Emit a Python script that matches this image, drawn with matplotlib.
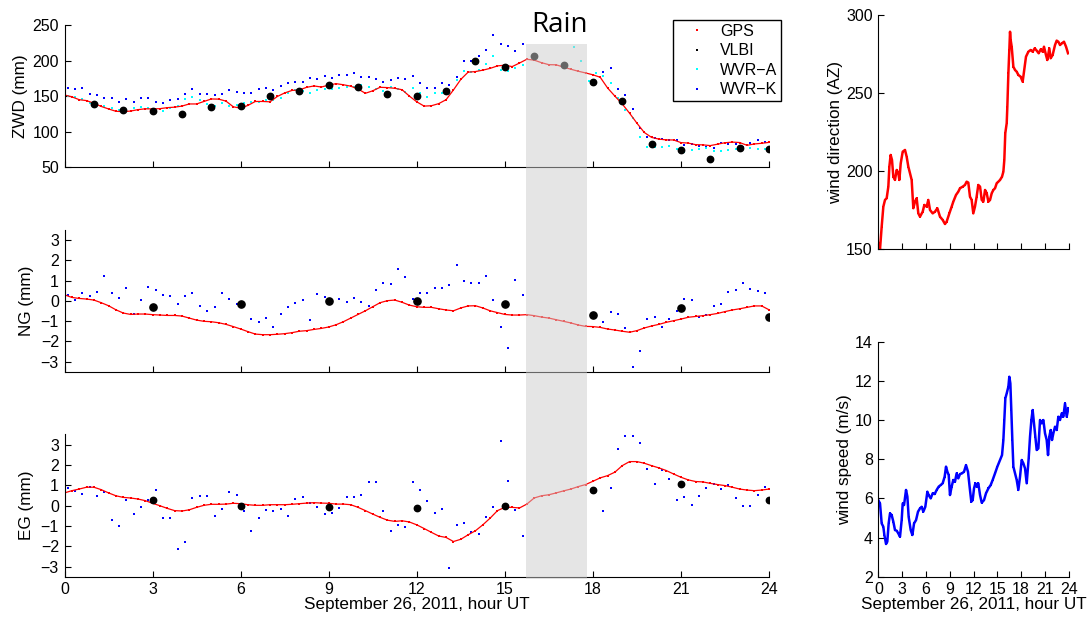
"""
ZWD and gradient comparison (GPS, VLBI, WVR) with local wind record, 26 Sep 2011.
"""

import matplotlib
matplotlib.use("Agg")

import matplotlib.pyplot as plt
import matplotlib.transforms as mtransforms
import numpy as np
from matplotlib.lines import Line2D
from matplotlib.patches import Rectangle

plt.rcParams["font.family"] = ["Liberation Sans", "DejaVu Sans"]

TICK_SIZE = 11.5
LABEL_SIZE = 12.3
XLABEL = "September 26, 2011, hour UT"

# Rain period, hours UT
RAIN_START = 15.72
RAIN_END = 17.80

# GPS estimates every 15 min
gps_hours = np.arange(97) * 0.25
gps_zwd = [151.6, 149, 145, 143.7, 140, 135.5, 132, 128.7, 128.2, 129, 131, 132.2,
           132, 132.4, 133.8, 134.5, 136, 139, 139, 142.5, 146, 145.8, 143, 135,
           133, 137, 142.5, 142.5, 142, 149.5, 154.5, 158, 158.7, 162.4, 164.3, 162.8,
           165.5, 167.5, 166, 164, 160, 154, 157.5, 162.4, 162, 161, 159, 150,
           142, 136, 136.5, 139.5, 145, 158.7, 173.5, 183.7, 184.5, 186.5, 189, 192.5,
           193.5, 191.5, 196.5, 201.8, 200.6, 197, 194.2, 194, 190.8, 187.8, 185, 182.6,
           180, 176.5, 161.5, 150, 139, 126, 112, 99, 92, 89.6, 88.5, 88.4,
           84.7, 84, 81.8, 81.5, 80.5, 82.5, 84.5, 85.4, 84.8, 80.9, 82.8, 83.7, 85]
gps_ng = [0.30, 0.17, 0.12, 0.09, 0.04, -0.09, -0.24, -0.44, -0.60, -0.67, -0.65, -0.65,
          -0.68, -0.70, -0.72, -0.72, -0.75, -0.85, -0.95, -1.01, -1.03, -1.08, -1.16, -1.27,
          -1.39, -1.52, -1.64, -1.67, -1.67, -1.65, -1.62, -1.57, -1.50, -1.47, -1.41, -1.36,
          -1.29, -1.18, -1.03, -0.85, -0.67, -0.49, -0.29, -0.09, 0.01, 0.04,
          -0.07, -0.21, -0.29, -0.32, -0.32, -0.39, -0.45, -0.49, -0.35, -0.25, -0.24, -0.35,
          -0.49, -0.58, -0.67, -0.70, -0.70, -0.68, -0.73, -0.80, -0.85, -0.93, -1.01, -1.09,
          -1.19, -1.26, -1.27, -1.31, -1.39, -1.44, -1.50, -1.55, -1.47, -1.34, -1.24, -1.16,
          -1.06, -0.98, -0.90, -0.81, -0.77, -0.73, -0.68, -0.62, -0.53, -0.45, -0.39, -0.32,
          -0.25, -0.25, -0.44]
gps_eg = [0.62, 0.73, 0.81, 0.90, 0.90, 0.78, 0.62, 0.48, 0.40, 0.37, 0.32, 0.24,
          0.11, -0.01, -0.14, -0.25, -0.27, -0.21, -0.09, 0.01, 0.06, 0.06, 0.07, 0.11,
          0.09, 0.04, 0.01, 0.01, 0.04, 0.04, 0.04, 0.06, 0.09, 0.12, 0.14, 0.12,
          0.11, 0.07, 0.07, 0.04, -0.09, -0.25, -0.42, -0.58, -0.72, -0.78,
          -0.75, -0.81, -0.95, -1.13, -1.32, -1.50, -1.57, -1.77, -1.66, -1.44, -1.24, -0.95,
          -0.62, -0.25, -0.09, -0.09, -0.12, 0.07, 0.37, 0.48, 0.53, 0.62, 0.72, 0.81,
          0.93, 1.03, 1.19, 1.36, 1.47, 1.64, 1.96, 2.16, 2.16, 2.08, 1.96, 1.85,
          1.72, 1.55, 1.39, 1.26, 1.18, 1.16, 1.09, 1.03, 0.98, 0.90, 0.81, 0.76,
          0.73, 0.76, 0.81]

# VLBI: hourly ZWD, 3-hourly gradients
vlbi_zwd_hours = np.arange(1, 25)
vlbi_zwd = [138.5, 130.1, 129.2, 125.0, 134.8, 136.2, 149.8, 157.7, 165.7, 162.4, 152.6, 150.2,
            157.7, 199.4, 190.5, 206.4, 193.8, 170.4, 143.7, 82.8, 74.4, 62.2, 77.2, 75.8]
vlbi_grad_hours = [3, 6, 9, 12, 15, 18, 21, 24]
vlbi_ng = [-0.29, -0.16, -0.02, 0.0, -0.17, -0.72, -0.34, -0.80]
vlbi_eg = [0.25, -0.04, -0.09, -0.14, -0.02, 0.78, 1.04, 0.25]

# WVR samples every 15 min, offset 0.11 h; nan = no data (rain)
nan = np.nan
wvr_hours = np.arange(96) * 0.25 + 0.11
wvra_zwd = [150.7, 148.4, 145.6, 141, 139, 136.2, 133, 130.6, 130.6, 133.8, 135.2, 133,
            129.6, 129.6, 133, 136.2, 145.6, 148.4, 144.6, 139, 136.2, 140, 136.5, 137,
            140, 142.3, 141.5, 144.6, 144.6, 147, 154.9, 158.7, 157.7, 154.9, 158.7, 159.6,
            159.6, 161.5, 163.3, 162.4, 165.2, 162.4, 159.6, 157.7, 163.3, 160,
            156.3, 161, 154.9, 148.4, 154, 154.9, 152.6, 172.7, 185.8, 184.4, 186.8, 195.2,
            206.4, 186.8, 185.8, 189.1, 193.8,
            nan, nan, nan, nan, nan, nan, 219.6, 199.9, 171.8, 183,
            178, 168, 147, 130.6, 118.9, 93, 79, 79, 79, 80, 75.3, 72,
            74.4, 75.3, 76.7, 73.4, 73, 74.4, 75.3, 77.6, 76.7, 75.3, 75.3]
wvrk_zwd = [161.5, 160.5, 161, 153, 152.1, 147, 147, 141.8, 145.6, 141.3, 147, 147.9,
            142.3, 140, 144.6, 146, 153, 160.5, 153.5, 152.6, 152.1, 153.5, 158.7, 155.9,
            154, 154, 159.6, 161.5, 158.7, 164.3, 169, 169.4, 169.4, 175.1, 173.7, 178.3,
            175.1, 179.7, 179.3, 183, 177.4, 176.5, 174.6, 170.4, 172.3, 175.1,
            173.7, 178.3, 169, 161, 162, 169, 165, 177.4, 199.4, 199, 206.4, 214.9,
            236, 223.8, 221, 213.5, 223.8,
            nan, nan, nan, nan, nan, nan, nan, nan, nan, nan,
            184.4, 189.1, 160, 151.6, 132, 105.7, 92, 90.7, 89.3, 88.4, 88.4, 81.4,
            82.8, 80, 79, 76.7, 83.7, 82.8, 82.3, 79, 83.7, 88, 86]
wvrk_ng = [0.30, 0.06, 0.40, 0.22, 0.45, 1.23, 0.37, 0.16, 0.62, -0.65, 0.06, 0.70,
           0.52, 0.29, 0.22, -0.14, 0.24, 0.40, -0.25, -0.52, -0.30, 0.40, 0.11, -0.14,
           -0.24, -0.90, -1.06, -0.83, -1.31, -0.67, -0.30, -0.12, 0.04, -0.96, 0.34, 0.21,
           0.02, 0.11, -0.07, 0.12, -0.06, -0.24, 0.52, 0.90, 0.85, 1.57,
           1.19, 0.09, 0.39, 0.39, 0.63, 0.65, 0.76, 1.77, 1.0, 0.90, 0.86, 1.24,
           0.04, -1.31, -2.33, 1.04, 0.27,
           nan, nan, nan, nan, nan, nan, nan, nan, nan, nan,
           -1.04, -0.55, -0.67, -1.34, -3.28, -2.46, -0.90, -0.80, -1.27, -0.91, -0.52, 0.09,
           0.04, -0.81, -0.70, -0.25, -0.17, 0.44, 0.53, 0.86, 0.57, 0.50, 0.37]
wvrk_eg = [0.88, 0.73, 0.55, 0.93, 0.45, 0.67, -0.71, -1.03, 0.29, -0.42, -0.06, 0.29,
           0.76, -0.63, -0.62, -2.14, -1.78, 0.39, 0.47, 0.48, -0.50, -0.17, 0.67, 0.53,
           -0.29, -1.24, -0.62, -0.21, -0.25, -0.19, -0.50, 0.34, 0.40, 0.11, -0.09, -0.44,
           -0.35, -0.14, 0.42, 0.44, 0.53, 1.18, 1.16, -0.25, -1.26, -0.98,
           -1.06, 1.14, 0.78, 0.24, -0.39, -0.19, -3.07, -0.96, -0.85, -1.32, -1.39, -0.55,
           -0.05, 3.16, 1.19, -0.24, -1.52,
           nan, nan, nan, nan, nan, nan, nan, nan, nan, nan,
           -0.27, 0.85, 2.80, 3.44, 3.44, 3.08, 1.78, 1.06, 1.75, 1.29, 0.27, 0.44,
           0.01, 0.48, 0.85, 1.06, 0.83, 1.01, 0.39, -0.04, -0.04, 0.52, 0.93]

# Weather station wind record
wdir_hours = [0.0, 0.21, 0.42, 0.63, 0.84, 1.05, 1.26, 1.39, 1.55, 1.72, 1.89, 2.1, 2.31,
              2.52, 2.65, 2.82, 3.07, 3.36, 3.57, 3.78, 3.99, 4.2, 4.41, 4.62, 4.83, 5.04,
              5.25, 5.59, 5.8, 6.09, 6.3, 6.51, 6.85, 7.14, 7.44, 7.77, 8.11, 8.4, 8.61,
              8.95, 9.24, 9.45, 9.79, 10.08, 10.29, 10.63, 10.92, 11.13, 11.34, 11.55, 11.76,
              11.97, 12.18, 12.39, 12.6, 12.82, 13.03, 13.24, 13.45, 13.66, 13.87, 14.08,
              14.29, 14.5, 14.71, 14.92, 15.13, 15.34, 15.59, 15.76, 15.88, 16.0, 16.18,
              16.26, 16.39, 16.51, 16.6, 16.68, 16.81, 17.02, 17.23, 17.44, 17.65, 17.94,
              18.19, 18.36, 18.61, 18.91, 19.2, 19.45, 19.71, 19.96, 20.21, 20.46, 20.71,
              20.88, 21.13, 21.3, 21.55, 21.72, 21.97, 22.27, 22.48, 22.69, 22.9, 23.15,
              23.4, 23.66, 23.91]
wind_dir = [153.9, 150, 164.5, 177.3, 181.6, 182.7, 190.1, 203, 210.4, 207.2, 196.5, 194.4,
            200.8, 198.7, 194.4, 205, 212.5, 213.6, 209.3, 202.9, 198.7, 194.4, 176.3, 180.5,
            182.7, 173, 170.9, 174.1, 178.4, 177.3, 181.6, 175.2, 173, 174.1, 176.3, 170.9,
            168.8, 166.2, 167.7, 173, 177.3, 180.5, 184.8, 186.9, 189.1, 190.1, 191.2, 193.3,
            192.7, 183.7, 181.6, 173, 177.3, 183.7, 191.2, 190.1, 181.6, 180.5, 188, 185.9,
            180.5, 181.6, 185.9, 188, 189.1, 192.3, 193.3, 194.4, 196.5, 199.7, 207.2, 224.3,
            230.7, 241.3, 262.7, 277.6, 289.3, 284, 279.7, 266.9, 264.8, 263.7, 261.6, 260.5,
            257.3, 263.7, 273.3, 276.5, 277.6, 276.5, 278.7, 277.2, 275.5, 278, 276.5, 279.7,
            274.4, 271.2, 278.7, 272.3, 274.4, 280.8, 283.6, 282.9, 280.8, 281.9, 282.9,
            279.7, 275.5]
wspd_hours = [0, 0.21, 0.42, 0.63, 0.76, 0.97, 1.13, 1.3, 1.47, 1.68, 1.89, 2.1, 2.31, 2.52,
              2.73, 2.94, 3.07, 3.24, 3.49, 3.66, 3.82, 4.08, 4.29, 4.5, 4.75, 5.0, 5.25,
              5.46, 5.67, 5.92, 6.18, 6.34, 6.6, 6.85, 7.1, 7.35, 7.61, 7.86, 8.11, 8.36,
              8.53, 8.7, 8.87, 9.03, 9.24, 9.45, 9.66, 9.87, 10.08, 10.29, 10.55, 10.8,
              11.05, 11.3, 11.55, 11.72, 11.89, 12.06, 12.23, 12.39, 12.6, 12.82, 13.03,
              13.32, 13.57, 13.87, 14.16, 14.41, 14.71, 15.0, 15.34, 15.59, 15.76, 15.88,
              16.01, 16.18, 16.39, 16.51, 16.64, 16.76, 16.89, 17.02, 17.23, 17.44, 17.65,
              17.86, 18.07, 18.28, 18.49, 18.7, 18.95, 19.12, 19.29, 19.45, 19.62, 19.79,
              19.96, 20.17, 20.38, 20.59, 20.8, 21.01, 21.22, 21.39, 21.55, 21.72, 21.89,
              22.06, 22.27, 22.48, 22.69, 22.9, 23.11, 23.32, 23.53, 23.74, 23.95]
wind_speed = [5.91, 5.74, 4.72, 4.55, 4.13, 3.67, 3.79, 4.72, 5.23, 5.15, 4.81, 4.38, 4.35,
              4.21, 4.04, 4.89, 5.74, 5.66, 6.43, 6.09, 5.06, 4.38, 4.13, 4.72, 4.89, 5.32,
              5.49, 5.57, 5.32, 5.57, 6.34, 6.17, 6.0, 6.26, 6.22, 6.43, 6.6, 6.68, 6.77,
              7.11, 7.62, 7.36, 7.19, 6.17, 6.6, 6.94, 6.85, 7.28, 7.02, 7.24, 7.28, 7.36,
              7.7, 7.36, 6.43, 5.83, 5.91, 6.51, 6.77, 6.6, 6.77, 6.17, 5.78, 5.91, 6.26,
              6.51, 6.68, 6.94, 7.28, 7.62, 7.96, 8.21, 8.98, 10.0, 11.11, 11.36, 11.7,
              12.21, 11.87, 10.51, 8.98, 7.62, 7.28, 6.94, 6.43, 7.11, 7.96, 7.79, 7.53,
              6.77, 8.04, 9.15, 10.0, 10.51, 9.83, 9.15, 8.47, 8.55, 10.0, 9.83, 10.0, 9.32,
              8.98, 8.21, 9.15, 9.49, 8.98, 9.32, 9.66, 9.49, 10.17, 10.0, 10.34, 10.17,
              10.85, 10.17, 10.6]

HOUR_TICKS = np.arange(0, 25, 3)
GRAD_TICKS = np.arange(-3, 4)


def style_axes(ax):
    """MATLAB-like look: box off, ticks pointing in."""
    for side in ("top", "right"):
        ax.spines[side].set_visible(False)
    for side in ("left", "bottom"):
        ax.spines[side].set_linewidth(0.8)
    ax.tick_params(direction="in", length=4, width=0.8, labelsize=TICK_SIZE,
                   top=False, right=False, pad=4)
    ax.set_xlim(0, 24)
    ax.set_xticks(HOUR_TICKS)


def dots(ax, x, y, color, ms=1.7, line=False):
    ax.plot(x, y, ls="-" if line else "none", lw=0.9, color=color,
            marker="s", ms=ms, mew=0)


fig = plt.figure(figsize=(10.88, 6.18), dpi=100)

ax_zwd = fig.add_axes([0.0593, 0.7293, 0.6475, 0.2303])
ax_ng = fig.add_axes([0.0593, 0.3985, 0.6475, 0.2293])
ax_eg = fig.add_axes([0.0593, 0.0668, 0.6475, 0.2304])
ax_dir = fig.add_axes([0.8073, 0.5966, 0.1750, 0.3791])
ax_spd = fig.add_axes([0.8073, 0.0668, 0.1750, 0.3803])

# ZWD
style_axes(ax_zwd)
dots(ax_zwd, wvr_hours, wvrk_zwd, "blue")
dots(ax_zwd, wvr_hours, wvra_zwd, "cyan")
dots(ax_zwd, gps_hours, gps_zwd, "red", ms=1.9, line=True)
ax_zwd.plot(vlbi_zwd_hours, vlbi_zwd, ls="none", marker="o", ms=4.6, color="black")
ax_zwd.set_ylim(50, 250)
ax_zwd.set_yticks([50, 100, 150, 200, 250])
ax_zwd.set_xticklabels([])
ax_zwd.set_ylabel("ZWD (mm)", fontsize=LABEL_SIZE, labelpad=3)

# North gradient
style_axes(ax_ng)
dots(ax_ng, wvr_hours, wvrk_ng, "blue")
dots(ax_ng, gps_hours, gps_ng, "red", ms=1.9, line=True)
ax_ng.plot(vlbi_grad_hours, vlbi_ng, ls="none", marker="o", ms=5.2, color="black")
ax_ng.set_ylim(-3.5, 3.5)
ax_ng.set_yticks(GRAD_TICKS)
ax_ng.set_xticklabels([])
ax_ng.set_ylabel("NG (mm)", fontsize=LABEL_SIZE, labelpad=5)

# East gradient
style_axes(ax_eg)
dots(ax_eg, wvr_hours, wvrk_eg, "blue")
dots(ax_eg, gps_hours, gps_eg, "red", ms=1.9, line=True)
ax_eg.plot(vlbi_grad_hours, vlbi_eg, ls="none", marker="o", ms=4.6, color="black")
ax_eg.set_ylim(-3.5, 3.5)
ax_eg.set_yticks(GRAD_TICKS)
ax_eg.set_xlabel(XLABEL, fontsize=LABEL_SIZE, labelpad=0)
ax_eg.set_ylabel("EG (mm)", fontsize=LABEL_SIZE, labelpad=5)

# Wind direction / speed
style_axes(ax_dir)
ax_dir.plot(wdir_hours, wind_dir, color="red", lw=1.8, marker="s", ms=1.6, mew=0)
ax_dir.set_ylim(150, 300)
ax_dir.set_yticks([150, 200, 250, 300])
ax_dir.set_xticklabels([])
ax_dir.set_ylabel("wind direction (AZ)", fontsize=LABEL_SIZE, labelpad=2)

style_axes(ax_spd)
ax_spd.plot(wspd_hours, wind_speed, color="blue", lw=1.8, marker="s", ms=1.6, mew=0)
ax_spd.set_ylim(2, 14)
ax_spd.set_yticks(np.arange(2, 15, 2))
ax_spd.set_xlabel(XLABEL, fontsize=LABEL_SIZE, labelpad=0)
ax_spd.set_ylabel("wind speed (m/s)", fontsize=LABEL_SIZE, labelpad=2)

# Legend, partly outside the top panel
handles = [Line2D([], [], ls="none", marker="s", ms=1.6, mew=0, color=c)
           for c in ("red", "black", "cyan", "blue")]
leg = ax_zwd.legend(handles, ["GPS", "VLBI", "WVR\u2212A", "WVR\u2212K"],
                    loc="upper left", bbox_to_anchor=(0.6183, 0.9676),
                    bbox_transform=fig.transFigure, fontsize=TICK_SIZE,
                    frameon=True, fancybox=False, framealpha=1, borderpad=0.25,
                    handlelength=2.6, handletextpad=0.1, labelspacing=0.28,
                    borderaxespad=0)
leg.get_frame().set_edgecolor("black")
leg.get_frame().set_linewidth(1.0)

# Rain band over the three left panels
trans = mtransforms.blended_transform_factory(ax_eg.transData, fig.transFigure)
band = Rectangle((RAIN_START, 0.0631), RAIN_END - RAIN_START, 0.8662, transform=trans,
                 facecolor="0.8", edgecolor="none", alpha=0.5, zorder=5)
fig.add_artist(band)
fig.text(0.5 * (RAIN_START + RAIN_END) + 0.1, 0.9487, "Rain", transform=trans,
         ha="center", va="baseline", fontsize=20, family=["Open Sans", "DejaVu Sans"])

fig.savefig("out.png", dpi=100)
